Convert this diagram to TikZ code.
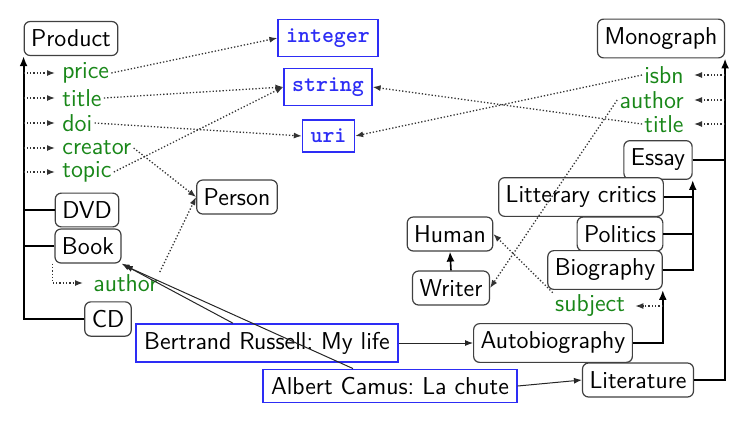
\documentclass[tikz,border=0pt]{standalone}
\usepackage{fontspec}
\usetikzlibrary{arrows.meta}
\definecolor{attrgreen}{RGB}{25,135,25}
\definecolor{typeblue}{RGB}{45,45,245}
\begin{document}
\begin{tikzpicture}[x=0.5pt,y=-0.5pt,
 every node/.style={font=\sffamily\fontsize{12.2}{14}\selectfont},
 cls/.style={draw=black!75, line width=0.6pt, rounded corners=3pt, inner xsep=3.5pt, inner ysep=4.2pt, fill=white},
 typ/.style={draw=typeblue, line width=0.7pt, text=typeblue, font=\ttfamily\bfseries\fontsize{11.4}{13}\selectfont, inner xsep=4pt, inner ysep=4.5pt, fill=white},
 inst/.style={draw=typeblue, line width=0.7pt, inner xsep=4pt, inner ysep=4pt, fill=white},
 attr/.style={text=attrgreen, inner sep=1pt},
 tree/.style={line width=1pt, black},
 treearr/.style={tree, -{Latex[length=5pt,width=4pt]}},
 dotarr/.style={densely dotted, line width=0.65pt, black!80, -{Latex[length=4pt,width=3pt]}},
 thinarr/.style={line width=0.5pt, black!85, -{Latex[length=4pt,width=3pt]}}]
\useasboundingbox (0,0) rectangle (743,420);

% left hierarchy
\node[cls] (product) at (71,38.5) {Product};
\node[attr,anchor=west] (price) at (60,73) {price};
\node[attr,anchor=west] (ptitle) at (60,98) {title};
\node[attr,anchor=west] (doi) at (60,123) {doi};
\node[attr,anchor=west] (creator) at (60,148) {creator};
\node[attr,anchor=west] (topic) at (60,172) {topic};
\node[cls] (dvd) at (87,210) {DVD};
\node[cls] (book) at (88,246) {Book};
\node[attr,anchor=west] (bauthor) at (91,283) {author};
\node[cls] (cd) at (108,319) {CD};
\node[cls] (person) at (237,197) {Person};

% types
\node[typ] (integer) at (328,38) {integer};
\node[typ] (string) at (328,87) {string};
\node[typ] (uri) at (328.5,136) {uri};

% right hierarchy
\node[cls] (monograph) at (661,38.5) {Monograph};
\node[attr,anchor=east] (isbn) at (686,75) {isbn};
\node[attr,anchor=east] (mauthor) at (686,100) {author};
\node[attr,anchor=east] (mtitle) at (686,124) {title};
\node[cls] (essay) at (658,160) {Essay};
\node[cls] (lc) at (581,197) {Litterary critics};
\node[cls] (politics) at (620,234) {Politics};
\node[cls] (bio) at (605,270) {Biography};
\node[attr] (subject) at (590,306) {subject};
\node[cls] (auto) at (553,343) {Autobiography};
\node[cls] (lit) at (638,380) {Literature};
\node[cls] (human) at (450,234) {Human};
\node[cls] (writer) at (451,288) {Writer};

% instances
\node[inst] (br) at (267,343) {Bertrand Russell:\ My life};
\node[inst] (ac) at (390,386) {Albert Camus:\ La chute};

% left tree
\draw[treearr] (cd.west) -| (product.south west);
\draw[tree] (dvd.west) -- (dvd.west -| product.south west);
\draw[tree] (book.west) -- (book.west -| product.south west);
\foreach \a in {price,ptitle,doi,creator,topic}
  \draw[dotarr] (\a.west -| product.south west) -- ([xshift=-2.5pt]\a.west);
\draw[dotarr] ([xshift=-1pt]book.south west) |- ([xshift=-4pt]bauthor.west);

% right tree
\draw[treearr] (lit.east) -| (monograph.south east);
\draw[tree] (essay.east) -- (essay.east -| monograph.south east);
\foreach \a in {isbn,mauthor,mtitle}
  \draw[dotarr] (\a.east -| monograph.south east) -- ([xshift=4pt]\a.east);
\draw[treearr] (bio.east) -| (essay.south east);
\draw[tree] (lc.east) -- (lc.east -| essay.south east);
\draw[tree] (politics.east) -- (politics.east -| essay.south east);
\draw[treearr] (auto.east) -| (bio.south east);
\draw[dotarr] (subject.east -| bio.south east) -- ([xshift=4pt]subject.east);
\draw[treearr, line width=0.8pt] (writer.north) -- (human.south);

% property ranges
\draw[dotarr] (price.east) -- (integer.west);
\draw[dotarr] (ptitle.east) -- (string.west);
\draw[dotarr] (topic.east) -- (string.west);
\draw[dotarr] (doi.east) -- (uri.west);
\draw[dotarr] (creator.east) -- (person.west);
\draw[dotarr] (bauthor.north east) -- (person.west);
\draw[dotarr] (isbn.west) -- (uri.east);
\draw[dotarr] (mtitle.west) -- (string.east);
\draw[dotarr] (mauthor.west) -- (writer.east);
\draw[dotarr] (subject.north west) -- (human.east);

% instance links
\draw[thinarr] (br.east) -- (auto.west);
\draw[thinarr] (ac.east) -- (lit.west);
\draw[thinarr] ([xshift=-17pt]br.north) -- (book.south east);
\draw[thinarr] ([xshift=-18.5pt]ac.north) -- ([xshift=1.5pt,yshift=-1pt]book.south east);
\end{tikzpicture}
\end{document}
